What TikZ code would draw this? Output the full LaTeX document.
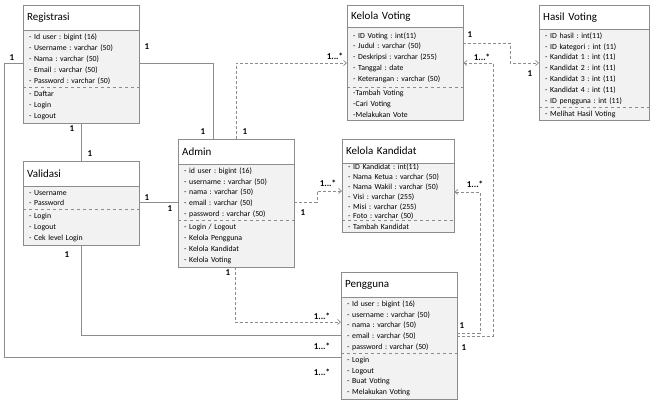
\documentclass[tikz,border=0pt]{standalone}
\usepackage{fontspec}
\setmainfont{Carlito}
\usetikzlibrary{arrows.meta}
\frenchspacing
\definecolor{linegray}{RGB}{140,140,140}
\definecolor{cellgray}{RGB}{242,242,242}
\tikzset{
    ttl/.style={anchor=north west, fill=white, align=left, inner xsep=4pt, inner ysep=0pt, font=\fontsize{11}{13}\selectfont},
    cmp/.style={anchor=north west, fill=cellgray, align=left, inner xsep=6pt, inner ysep=0pt, font=\fontsize{7.8}{10.8}\selectfont},
    box/.style={draw=linegray, line width=0.8pt},
    sline/.style={draw=linegray, line width=0.8pt},
    dline/.style={draw=linegray, line width=0.7pt, dash pattern=on 3pt off 2pt, -{Straight Barb[length=3pt,width=5pt]}},
    mult/.style={font=\bfseries\fontsize{9}{10}\selectfont, inner sep=0pt},
}
\begin{document}
\begin{tikzpicture}[x=1pt, y=-1pt]
    \useasboundingbox (0,0) rectangle (652,401);
    % Registrasi
    \node[ttl, text width=108pt, minimum height=25pt] (reg) at (23,5) {Registrasi};
    \node[cmp, text width=104pt, minimum height=57pt] (regA) at (reg.south west) {- Id user : bigint (16)\\- Username : varchar (50)\\- Nama : varchar (50)\\- Email : varchar (50)\\- Password : varchar (50)};
    \node[cmp, text width=104pt, minimum height=35pt] (regM) at (regA.south west) {- Daftar\\- Login\\- Logout};
    \draw[box] (reg.north west) rectangle (regM.south east);
    \draw[box] (regA.north west) -- (regA.north east);
    \draw[box, dashed] (regM.north west) -- (regM.north east);
    % Validasi
    \node[ttl, text width=108pt, minimum height=25pt] (val) at (23,161) {Validasi};
    \node[cmp, text width=104pt, minimum height=23pt] (valA) at (val.south west) {- Username\\- Password};
    \node[cmp, text width=104pt, minimum height=35pt] (valM) at (valA.south west) {- Login\\- Logout\\- Cek level Login};
    \draw[box] (val.north west) rectangle (valM.south east);
    \draw[box] (valA.north west) -- (valA.north east);
    \draw[box, dashed] (valM.north west) -- (valM.north east);
    % Admin
    \node[ttl, text width=108pt, minimum height=25pt] (adm) at (178,139) {Admin};
    \node[cmp, text width=104pt, minimum height=56pt] (admA) at (adm.south west) {- id user : bigint (16)\\- username : varchar (50)\\- nama : varchar (50)\\- email : varchar (50)\\- password : varchar (50)};
    \node[cmp, text width=104pt, minimum height=46pt] (admM) at (admA.south west) {- Login / Logout\\- Kelola Pengguna\\- Kelola Kandidat\\- Kelola Voting};
    \draw[box] (adm.north west) rectangle (admM.south east);
    \draw[box] (admA.north west) -- (admA.north east);
    \draw[box, dashed] (admM.north west) -- (admM.north east);
    % Kelola Voting
    \node[ttl, text width=108pt, minimum height=22pt] (kv) at (347,5) {Kelola Voting};
    \node[cmp, text width=104pt, minimum height=60pt] (kvA) at (kv.south west) {- ID Voting : int(11)\\- Judul : varchar (50)\\- Deskripsi : varchar (255)\\- Tanggal : date\\- Keterangan : varchar (50)};
    \node[cmp, text width=104pt, minimum height=32pt] (kvM) at (kvA.south west) {-Tambah Voting\\-Cari Voting\\-Melakukan Vote};
    \draw[box] (kv.north west) rectangle (kvM.south east);
    \draw[box] (kvA.north west) -- (kvA.north east);
    \draw[box, dashed] (kvM.north west) -- (kvM.north east);
    % Hasil Voting
    \node[ttl, text width=102pt, minimum height=24pt] (hv) at (539,5) {Hasil Voting};
    \node[cmp, text width=98pt, minimum height=78pt] (hvA) at (hv.south west) {- ID hasil : int(11)\\- ID kategori : int (11)\\- Kandidat 1 : int (11)\\- Kandidat 2 : int (11)\\- Kandidat 3 : int (11)\\- Kandidat 4 : int (11)\\- ID pengguna : int (11)};
    \node[cmp, text width=98pt, minimum height=12pt] (hvM) at (hvA.south west) {- Melihat Hasil Voting};
    \draw[box] (hv.north west) rectangle (hvM.south east);
    \draw[box] (hvA.north west) -- (hvA.north east);
    \draw[box, dashed] (hvM.north west) -- (hvM.north east);
    % Kelola Kandidat
    \node[ttl, text width=104pt, minimum height=24pt] (kk) at (342,139) {Kelola Kandidat};
    \node[cmp, text width=100pt, minimum height=57pt, font=\fontsize{7.8}{9.8}\selectfont] (kkA) at (kk.south west) {- ID Kandidat : int(11)\\- Nama Ketua : varchar (50)\\- Nama Wakil : varchar (50)\\- Visi : varchar (255)\\- Misi : varchar (255)\\- Foto : varchar (50)};
    \node[cmp, text width=100pt, minimum height=11pt] (kkM) at (kkA.south west) {- Tambah Kandidat};
    \draw[box] (kk.north west) rectangle (kkM.south east);
    \draw[box] (kkA.north west) -- (kkA.north east);
    \draw[box, dashed] (kkM.north west) -- (kkM.north east);
    % Pengguna
    \node[ttl, text width=108pt, minimum height=25pt] (pg) at (341,272) {Pengguna};
    \node[cmp, text width=104pt, minimum height=56pt] (pgA) at (pg.south west) {- Id user : bigint (16)\\- username : varchar (50)\\- nama : varchar (50)\\- email : varchar (50)\\- password : varchar (50)};
    \node[cmp, text width=104pt, minimum height=45pt] (pgM) at (pgA.south west) {- Login\\- Logout\\- Buat Voting\\- Melakukan Voting};
    \draw[box] (pg.north west) rectangle (pgM.south east);
    \draw[box] (pgA.north west) -- (pgA.north east);
    \draw[box, dashed] (pgM.north west) -- (pgM.north east);
    % relasi
    \draw[sline] (regA.east |- 0,63) -| (adm.north -| 213,0);
    \draw[dline] (adm.north -| 236,0) |- (kvA.west |- 0,63);
    \draw[sline] (regM.south -| 81,0) -- (val.north -| 81,0);
    \draw[sline] (regA.west |- 0,63) -| (4,357) -- (pgM.west |- 0,357);
    \draw[sline] (valM.south -| 81,0) |- (pgA.west |- 0,335);
    \draw[sline] (valA.east |- 0,202) -- (admA.west |- 0,202);
    \draw[dline] (admA.east |- 0,202) -| (317,191) -- (kkA.west |- 0,191);
    \draw[dline] (admM.south -| 235,0) |- (pgA.west |- 0,322);
    \draw[dline] (kvA.east |- 0,43) -| (510,63) -- (hvA.west |- 0,63);
    \draw[dline] (pgA.east |- 0,333) -| (480,192) -- (kkA.east |- 0,192);
    \draw[dline] (pgA.east |- 0,336) -| (493,63) -- (kvA.east |- 0,63);
    % multiplicity
    \node[mult] (m1) at (147,47) {1};
    \node[mult] (m2) at (203,132) {1};
    \node[mult] (m3) at (245,132) {1};
    \node[mult] (m4) at (335,56) {1...*};
    \node[mult] (m5) at (72,129) {1};
    \node[mult] (m6) at (90,154) {1};
    \node[mult] (m7) at (12,58) {1};
    \node[mult] (m8) at (322,372) {1...*};
    \node[mult] (m9) at (67,255) {1};
    \node[mult] (m10) at (322,346) {1...*};
    \node[mult] (m11) at (147,198) {1};
    \node[mult] (m12) at (170,209) {1};
    \node[mult] (m13) at (328,183) {1...*};
    \node[mult] (m14) at (303,213) {1};
    \node[mult] (m15) at (228,273) {1};
    \node[mult] (m16) at (322,316) {1...*};
    \node[mult] (m17) at (470,35) {1};
    \node[mult] (m18) at (530,74) {1};
    \node[mult] (m19) at (475,184) {1...*};
    \node[mult] (m20) at (462,326) {1};
    \node[mult] (m21) at (482,57) {1...*};
    \node[mult] (m22) at (464,348) {1};
\end{tikzpicture}
\end{document}
